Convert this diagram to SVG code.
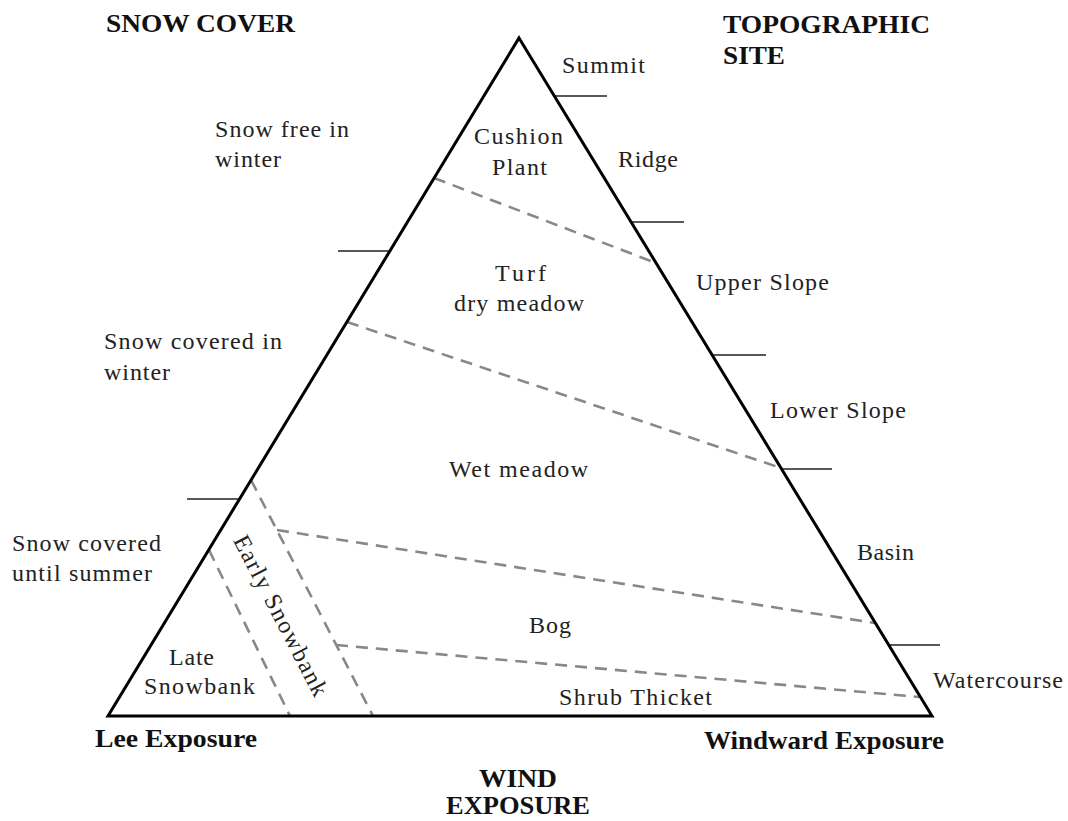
<svg xmlns="http://www.w3.org/2000/svg" width="1068" height="821" viewBox="0 0 1068 821">
<style>
.t{font-family:"Liberation Serif","DejaVu Serif",serif;font-size:24px;font-weight:normal;fill:#222;}
.h{font-family:"Liberation Serif","DejaVu Serif",serif;font-size:25px;font-weight:bold;fill:#111;}
.tri{fill:none;stroke:#000;stroke-width:3;stroke-linejoin:miter;}
.tick{stroke:#222;stroke-width:1.6;fill:none;}
.dash{stroke:#888;stroke-width:2.6;stroke-dasharray:12 8;fill:none;}
</style>
<rect width="1068" height="821" fill="#fff"/>
<g id="connectors">
<line class="dash" x1="434" y1="178" x2="656" y2="263"/>
<line class="dash" x1="347" y1="322" x2="781" y2="468"/>
<line class="dash" x1="251" y1="480" x2="373" y2="716"/>
<line class="dash" x1="209" y1="550" x2="290" y2="716"/>
<line class="dash" x1="277" y1="530" x2="875" y2="623"/>
<line class="dash" x1="336" y1="645" x2="919" y2="697"/>
</g>
<g id="ticks">
<line class="tick" x1="554" y1="96" x2="607" y2="96"/>
<line class="tick" x1="631" y1="222" x2="684" y2="222"/>
<line class="tick" x1="712" y1="355" x2="766" y2="355"/>
<line class="tick" x1="781" y1="469" x2="832" y2="469"/>
<line class="tick" x1="889" y1="645" x2="940" y2="645"/>
<line class="tick" x1="338" y1="251" x2="390" y2="251"/>
<line class="tick" x1="187" y1="499" x2="240" y2="499"/>
</g>
<g id="triangle">
<polygon class="tri" points="519,38 932,716 108,716"/>
</g>
<g id="axis-labels">
<text class="h" x="106" y="32" textLength="189" lengthAdjust="spacingAndGlyphs">SNOW COVER</text>
<text class="h" x="723" y="33" textLength="207" lengthAdjust="spacingAndGlyphs">TOPOGRAPHIC</text>
<text class="h" x="723" y="64" textLength="62" lengthAdjust="spacingAndGlyphs">SITE</text>
<text class="h" x="95" y="747" textLength="162" lengthAdjust="spacingAndGlyphs">Lee Exposure</text>
<text class="h" x="704" y="749" textLength="240" lengthAdjust="spacingAndGlyphs">Windward Exposure</text>
<text class="h" x="479" y="787" textLength="78" lengthAdjust="spacingAndGlyphs">WIND</text>
<text class="h" x="446" y="814" textLength="144" lengthAdjust="spacingAndGlyphs">EXPOSURE</text>
</g>
<g id="topo-labels">
<text class="t" x="562" y="73" textLength="83" lengthAdjust="spacing">Summit</text>
<text class="t" x="618" y="167" textLength="60" lengthAdjust="spacing">Ridge</text>
<text class="t" x="696" y="290" textLength="133" lengthAdjust="spacing">Upper Slope</text>
<text class="t" x="770" y="418" textLength="136" lengthAdjust="spacing">Lower Slope</text>
<text class="t" x="857" y="560" textLength="57" lengthAdjust="spacing">Basin</text>
<text class="t" x="933" y="688" textLength="130" lengthAdjust="spacing">Watercourse</text>
</g>
<g id="snow-labels">
<text class="t" x="215" y="137" textLength="134" lengthAdjust="spacing">Snow free in</text>
<text class="t" x="215" y="167" textLength="66" lengthAdjust="spacing">winter</text>
<text class="t" x="104" y="349" textLength="178" lengthAdjust="spacing">Snow covered in</text>
<text class="t" x="104" y="380" textLength="66" lengthAdjust="spacing">winter</text>
<text class="t" x="12" y="551" textLength="149" lengthAdjust="spacing">Snow covered</text>
<text class="t" x="12" y="581" textLength="140" lengthAdjust="spacing">until summer</text>
</g>
<g id="zone-cushion">
<text class="t" x="474" y="144" textLength="89" lengthAdjust="spacing">Cushion</text>
<text class="t" x="492" y="175" textLength="55" lengthAdjust="spacing">Plant</text>
</g>
<g id="zone-turf">
<text class="t" x="495" y="281" textLength="51" lengthAdjust="spacing">Turf</text>
<text class="t" x="454" y="311" textLength="130" lengthAdjust="spacing">dry meadow</text>
</g>
<g id="zone-wet">
<text class="t" x="449" y="477" textLength="139" lengthAdjust="spacing">Wet meadow</text>
</g>
<g id="zone-bog">
<text class="t" x="529" y="633" textLength="42" lengthAdjust="spacing">Bog</text>
</g>
<g id="zone-shrub">
<text class="t" x="559" y="705" textLength="153" lengthAdjust="spacing">Shrub Thicket</text>
</g>
<g id="zone-late">
<text class="t" x="169" y="665" textLength="45" lengthAdjust="spacing">Late</text>
<text class="t" x="144" y="694" textLength="111" lengthAdjust="spacing">Snowbank</text>
</g>
<g id="zone-early">
<text class="t" transform="translate(280,616) rotate(62.6)" x="0" y="7" text-anchor="middle" textLength="178" lengthAdjust="spacing">Early Snowbank</text>
</g>
</svg>
